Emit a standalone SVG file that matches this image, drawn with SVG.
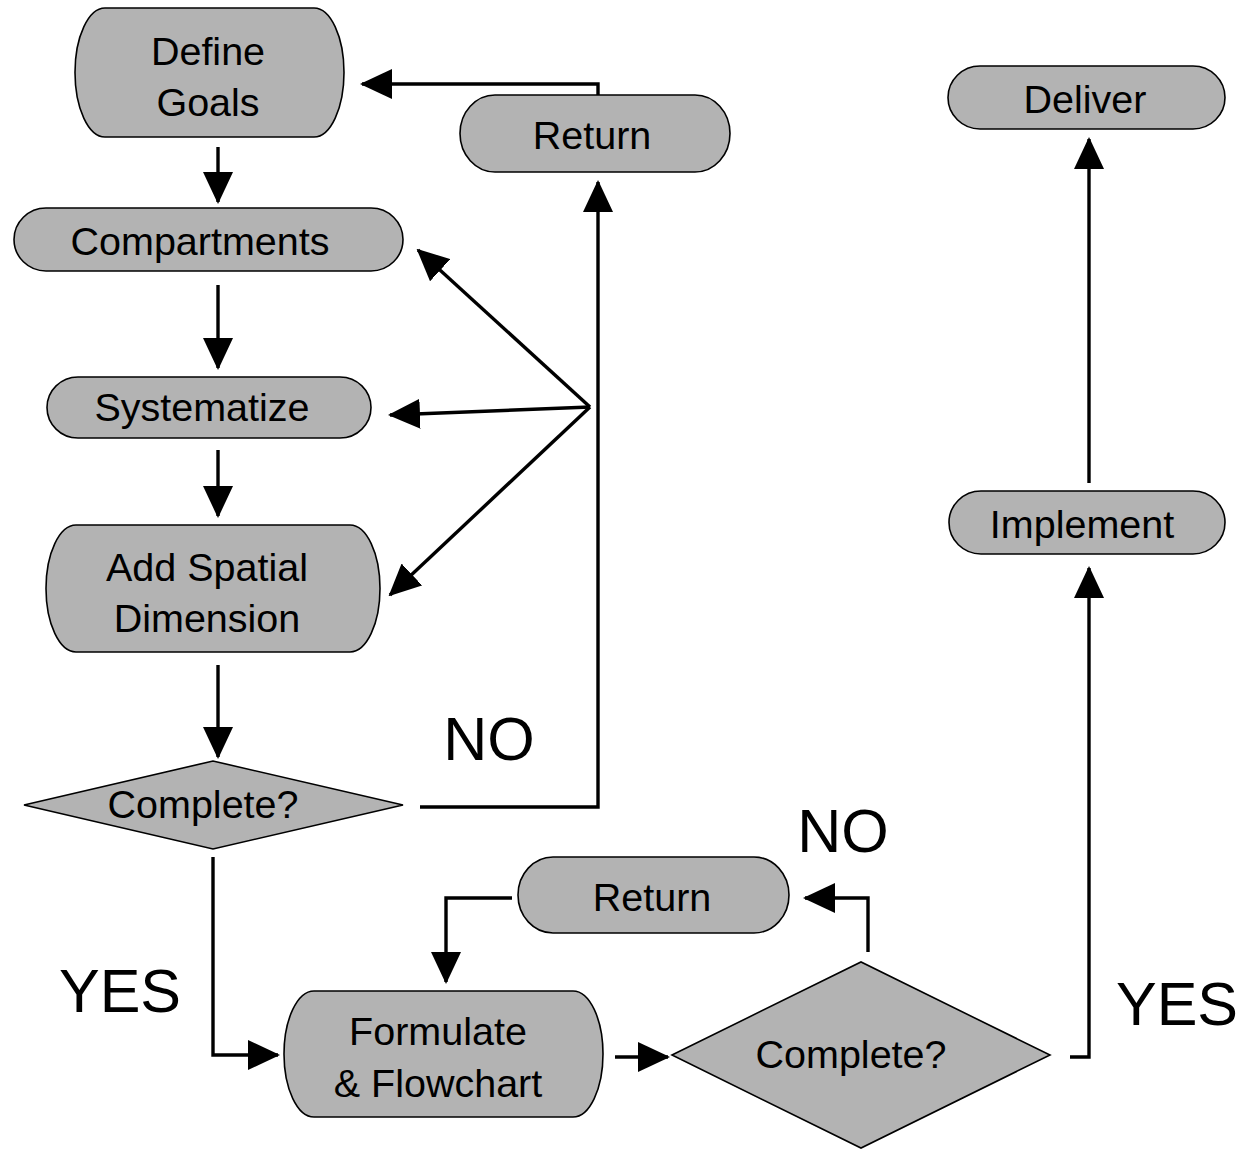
<svg xmlns="http://www.w3.org/2000/svg" width="1243" height="1149" viewBox="0 0 1243 1149">
<style>
.n{fill:#b3b3b3;stroke:#000;stroke-width:1.6}
.t{font-family:"Liberation Sans",Arial,sans-serif;font-size:39.5px;fill:#000;text-anchor:middle}
.lbl{font-family:"Liberation Sans",Arial,sans-serif;font-size:61px;fill:#000;text-anchor:middle}
.c{fill:none;stroke:#000;stroke-width:3.4;marker-end:url(#ah)}
</style>
<defs>
<marker id="ah" markerUnits="userSpaceOnUse" viewBox="0 0 32 30" refX="30" refY="15" markerWidth="32" markerHeight="30" orient="auto">
<path d="M0,0 L32,15 L0,30 Z" fill="#000"/>
</marker>
</defs>
<rect width="1243" height="1149" fill="#fff"/>
<g id="connectors">
<path class="c" d="M218,147 V202"/>
<path class="c" d="M218,285 V368"/>
<path class="c" d="M218,450 V516"/>
<path class="c" d="M218,665 V757"/>
<path class="c" d="M420,807 H598 V182"/>
<path class="c" d="M598,97 V84 H362"/>
<path class="c" d="M590,407 L418,250"/>
<path class="c" d="M590,407 L390,415"/>
<path class="c" d="M590,407 L390,595"/>
<path class="c" d="M213,857 V1055 H278"/>
<path class="c" d="M615,1057 H668"/>
<path class="c" d="M868,952 V898 H805"/>
<path class="c" d="M512,898 H446 V982"/>
<path class="c" d="M1070,1057 H1089 V568"/>
<path class="c" d="M1089,483 V139"/>
</g>
<g id="define-goals">
<path class="n" d="M105,8 H314 A30,64.5 0 0 1 314,137 H105 A30,64.5 0 0 1 105,8 Z"/>
<text class="t" x="208" y="65">Define</text>
<text class="t" x="208" y="116">Goals</text>
</g>
<g id="return-top">
<path class="n" d="M495,95 H695 A35,38.5 0 0 1 695,172 H495 A35,38.5 0 0 1 495,95 Z"/>
<text class="t" x="592" y="149">Return</text>
</g>
<g id="compartments">
<path class="n" d="M46,208 H371 A32,31.5 0 0 1 371,271 H46 A32,31.5 0 0 1 46,208 Z"/>
<text class="t" x="200" y="255">Compartments</text>
</g>
<g id="systematize">
<path class="n" d="M78,377 H340 A31,30.5 0 0 1 340,438 H78 A31,30.5 0 0 1 78,377 Z"/>
<text class="t" x="202" y="421">Systematize</text>
</g>
<g id="add-spatial-dimension">
<path class="n" d="M76,525 H350 A30,63.5 0 0 1 350,652 H76 A30,63.5 0 0 1 76,525 Z"/>
<text class="t" x="207" y="581">Add Spatial</text>
<text class="t" x="207" y="632">Dimension</text>
</g>
<g id="complete-1">
<polygon class="n" points="24,805 213,761 403,805 213,849"/>
<text class="t" x="203" y="818">Complete?</text>
</g>
<g id="return-bottom">
<path class="n" d="M553,857 H754 A35,38 0 0 1 754,933 H553 A35,38 0 0 1 553,857 Z"/>
<text class="t" x="652" y="911">Return</text>
</g>
<g id="formulate-flowchart">
<path class="n" d="M314,991 H573 A30,63 0 0 1 573,1117 H314 A30,63 0 0 1 314,991 Z"/>
<text class="t" x="438" y="1045">Formulate</text>
<text class="t" x="438" y="1097">&amp; Flowchart</text>
</g>
<g id="complete-2">
<polygon class="n" points="672,1055 861,962 1050,1055 861,1148"/>
<text class="t" x="851" y="1068">Complete?</text>
</g>
<g id="deliver">
<path class="n" d="M980,66 H1193 A32,31.5 0 0 1 1193,129 H980 A32,31.5 0 0 1 980,66 Z"/>
<text class="t" x="1085" y="113">Deliver</text>
</g>
<g id="implement">
<path class="n" d="M981,491 H1193 A32,31.5 0 0 1 1193,554 H981 A32,31.5 0 0 1 981,491 Z"/>
<text class="t" x="1082" y="538">Implement</text>
</g>
<g id="labels">
<text class="lbl" x="489" y="760">NO</text>
<text class="lbl" x="843" y="852">NO</text>
<text class="lbl" x="120" y="1012">YES</text>
<text class="lbl" x="1177" y="1025">YES</text>
</g>
</svg>
